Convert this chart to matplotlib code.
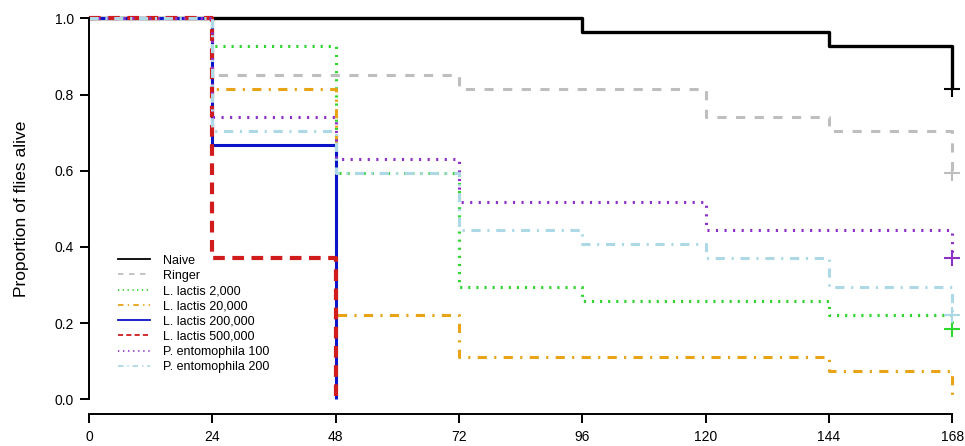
import matplotlib
matplotlib.use("Agg")
import matplotlib.pyplot as plt
from matplotlib.lines import Line2D

plt.rcParams['font.family'] = ['Liberation Sans', 'DejaVu Sans']

# ---- data ----
labels = ["Naive", "Ringer", "L. lactis 2,000", "L. lactis 20,000",
          "L. lactis 200,000", "L. lactis 500,000",
          "P. entomophila 100", "P. entomophila 200"]

naive_t = [0, 96, 144, 168]
naive_s = [1.0, 0.963, 0.926, 0.815]
ringer_t = [0, 24, 72, 120, 144, 168]
ringer_s = [1.0, 0.852, 0.815, 0.741, 0.704, 0.593]
ll2000_t = [0, 24, 48, 72, 96, 144, 168]
ll2000_s = [1.0, 0.926, 0.593, 0.296, 0.259, 0.222, 0.185]
ll20000_t = [0, 24, 48, 72, 144, 168]
ll20000_s = [1.0, 0.815, 0.222, 0.111, 0.074, 0.0]
ll200000_t = [0, 24, 48]
ll200000_s = [1.0, 0.667, 0.0]
ll500000_t = [0, 24, 48]
ll500000_s = [1.0, 0.370, 0.0]
pe100_t = [0, 24, 48, 72, 120, 168]
pe100_s = [1.0, 0.741, 0.630, 0.519, 0.444, 0.370]
pe200_t = [0, 24, 48, 72, 96, 120, 144, 168]
pe200_s = [1.0, 0.704, 0.593, 0.444, 0.407, 0.370, 0.296, 0.222]

censored = [True, True, True, False, False, False, True, True]

xticks = [0, 24, 48, 72, 96, 120, 144, 168]
yticks = [0.0, 0.2, 0.4, 0.6, 0.8, 1.0]
ytick_labels = ["0.0", "0.2", "0.4", "0.6", "0.8", "1.0"]

series_t = [naive_t, ringer_t, ll2000_t, ll20000_t, ll200000_t, ll500000_t, pe100_t, pe200_t]
series_s = [naive_s, ringer_s, ll2000_s, ll20000_s, ll200000_s, ll500000_s, pe100_s, pe200_s]

# ---- styles ----
colors = ["#000000", "#BEBEBE", "#2ED62E", "#E8A317", "#0A14C8", "#D01C1C", "#8E30C8", "#ADD8E6"]
lws = [2.4, 2.2, 2.2, 2.2, 2.2, 3.0, 2.2, 2.2]
styles = ["-", (0, (3, 3.1)), (0, (0.7, 1.95)), (0, (3, 2.4, 0.7, 2.4)),
          "-", (0, (2.8, 1.8)), (0, (0.7, 2.1)), (0, (3, 2.2, 0.7, 2.2))]

W, H = 965, 446
fig = plt.figure(figsize=(W / 100, H / 100), dpi=100)
x0, x1 = 89, 952.3
ytop, ybot = 18.3, 399.3
ax = fig.add_axes([x0 / W, 1 - ybot / H, (x1 - x0) / W, (ybot - ytop) / H])

for t, s, c, lw, ls, cen in zip(series_t, series_s, colors, lws, styles, censored):
    ax.step(t, s, where="post", color=c, lw=lw, linestyle=ls,
            dash_capstyle="butt", solid_capstyle="butt", clip_on=False)
    if cen:
        ax.plot([t[-1]], [s[-1]], marker="+", color=c, markersize=11,
                markeredgewidth=1.5, clip_on=False, zorder=5)

ax.set_xlim(0, 168)
ax.set_ylim(0, 1)
ax.set_xticks(xticks)
ax.set_xticklabels([str(v) for v in xticks])
ax.set_yticks(yticks)
ax.set_yticklabels(ytick_labels)

for sp in ["top", "right"]:
    ax.spines[sp].set_visible(False)
ax.spines["bottom"].set_position(("outward", 15 * 0.72))
ax.spines["left"].set_linewidth(1.4)
ax.spines["bottom"].set_linewidth(1.4)
ax.tick_params(axis="both", direction="out", length=6.5, width=1.4,
               labelsize=10, colors="black", pad=4.5)
ax.tick_params(axis="x", pad=5)

ax.set_ylabel("Proportion of flies alive", fontsize=12.5, labelpad=18.5)

handles = [Line2D([0], [0], color=c, lw=1.3, linestyle=ls, dash_capstyle="butt")
           for c, ls in zip(colors, styles)]
leg = fig.legend(handles, labels, loc="upper left",
                 bbox_to_anchor=(118 / W, 1 - 254.5 / H),
                 frameon=False, fontsize=9, handlelength=2.56,
                 handletextpad=1.04, labelspacing=0.26, borderpad=0,
                 borderaxespad=0)

fig.savefig("out.png", dpi=100)
